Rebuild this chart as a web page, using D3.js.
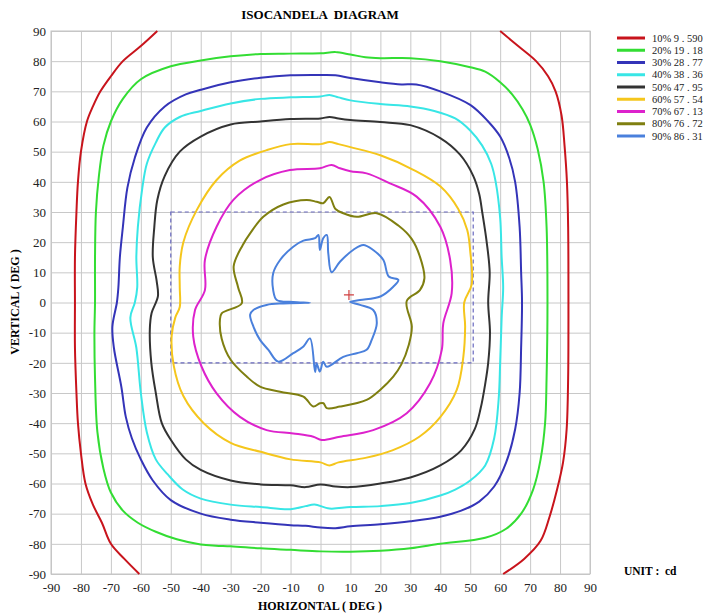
<!DOCTYPE html>
<html>
<head>
<meta charset="utf-8">
<script src="https://cdn.jsdelivr.net/npm/d3@7"></script>
<style>
  body { margin: 0; background: #fff; }
  svg text { font-family: "Liberation Serif", "DejaVu Serif", serif; white-space: pre; }
</style>
</head>
<body>
<svg id="chart" width="713" height="613"></svg>
<script>
// tick values (degrees)
const ticks = d3.range(-90, 91, 10);

// legend entries
const levels = ["10% 9 . 590", "20% 19 . 18", "30% 28 . 77", "40% 38 . 36", "50% 47 . 95",
                "60% 57 . 54", "70% 67 . 13", "80% 76 . 72", "90% 86 . 31"];
const colors = ["#c8141c", "#33dd33", "#3434b8", "#38e6e6", "#333333",
                "#f5c61c", "#dd22cc", "#7f7f10", "#4a80dc"];

// isocandela contours as [horizontal, vertical] degrees
const c10Left = [[-54.5, 90], [-60, 85], [-66, 80], [-70, 75], [-73.5, 70], [-76, 65], [-78, 60],
  [-80, 50], [-81, 40], [-81.5, 30], [-82, 15], [-82, 0], [-82, -15], [-81.5, -30], [-81, -40],
  [-80, -50], [-78.5, -60], [-76, -67], [-73, -73], [-70, -80], [-65.5, -85], [-60.5, -90]];
const c10Right = [[60, 90], [66, 85], [72, 80], [76, 75], [78.5, 70], [80.5, 62], [81.5, 52],
  [82.3, 40], [82.7, 25], [82.8, 0], [82.7, -25], [82.2, -42], [81, -53], [79, -62], [76.5, -71],
  [73.5, -79], [68, -85], [61, -90]];
const c20 = [[0, 82.6], [5, 83], [10, 82.2], [15, 81.3], [20, 81], [30, 81], [40, 80], [50, 78],
  [55, 76.5], [60, 73], [64, 69], [67.5, 64], [70, 59], [72.5, 51], [74.5, 40], [75.5, 25],
  [75.8, 0], [75.5, -25], [75, -40], [73.5, -52], [71, -62], [67, -70], [62, -75], [55, -78],
  [40, -80], [30, -81.5], [20, -82.3], [10, -82.6], [0, -82.5], [-10, -82], [-20, -81.5],
  [-30, -80.8], [-35, -80.6], [-40, -80.2], [-48, -78.5], [-55, -76], [-61, -73], [-66, -69],
  [-70, -63], [-72.5, -55], [-74.5, -43], [-75.3, -25], [-75.5, -10], [-75.3, 0], [-75.3, 15],
  [-75, 30], [-74, 42], [-72.5, 52], [-70, 60], [-66, 67.5], [-60, 74], [-50, 78.3],
  [-40, 80.2], [-30, 81.6], [-20, 82.4], [-10, 82.5]];
const c30 = [[-10, 75.3], [0, 75.4], [5, 75.3], [10, 74.4], [20, 73], [27, 72.3], [32, 72.3],
  [40, 70], [50, 65.5], [56, 60], [60, 55], [63, 48], [65, 40], [66.5, 25], [67, 10], [67.3, 0],
  [67, -15], [66.5, -30], [65, -42], [62, -53], [58, -61], [53, -66], [47, -69], [40, -71],
  [30, -72.5], [20, -73.5], [10, -74.2], [5, -74.8], [0, -74.6], [-5, -74], [-10, -73.8],
  [-20, -73], [-30, -72], [-40, -70], [-50, -65.5], [-56, -59], [-60, -52], [-63, -45],
  [-65, -38], [-66.5, -28], [-69, -15], [-69.5, -8], [-68, 0], [-67.5, 5], [-67, 15], [-66, 25],
  [-64.5, 38], [-62, 48], [-58, 58], [-52, 65], [-45, 69], [-40, 70.5], [-30, 73], [-20, 74.5]];
const c40 = [[-10, 68], [0, 68.3], [3, 68.8], [6, 68], [10, 67], [20, 65.8], [30, 65], [38, 63.5],
  [45, 61], [50, 57], [54, 52], [57, 46], [58.5, 40], [60, 28], [60.5, 15], [61, 5], [60.5, -5],
  [60, -20], [59.5, -32], [58, -45], [55, -54], [50, -59], [45, -62], [40, -64], [30, -66.5],
  [20, -67.5], [10, -67.8], [3, -68.3], [-2, -67], [-5, -67.5], [-10, -68.5], [-20, -67.8],
  [-30, -67], [-40, -65], [-46, -62], [-51, -57], [-55, -52], [-58, -43], [-60, -30],
  [-61.5, -15], [-63.5, -5], [-62, 0], [-61.2, 5], [-61.5, 15], [-61, 25], [-59.5, 38],
  [-58, 46], [-55, 53], [-52, 58], [-47, 61.5], [-40, 63.5], [-30, 66], [-20, 67.5]];
const c50 = [[-10, 60.8], [0, 61], [3, 61.5], [6, 61], [10, 60.5], [20, 59.8], [30, 58.8],
  [40, 54.5], [46.6, 49], [51, 42], [53, 36], [54, 30], [55.5, 20], [56.5, 10], [56, 0],
  [56.6, -10], [56, -20], [55, -27], [53.5, -35], [51.5, -42], [47, -49], [40, -54], [30, -58],
  [20, -60], [10, -61.2], [5, -61], [0, -60.3], [-5, -61.2], [-10, -60.6], [-20, -60.3],
  [-30, -59], [-40, -55.5], [-45, -52], [-50, -45.5], [-53, -40], [-55, -30], [-56.5, -20],
  [-57, -9], [-56.4, -3.5], [-54.3, 2], [-54.7, 7], [-56, 15], [-55.5, 25], [-54.5, 34],
  [-52, 42], [-47, 50], [-40, 55], [-30, 59], [-20, 60]];
const c60 = [[-10, 52.5], [0, 52.5], [3, 53.2], [6, 52.5], [10, 51.5], [20, 48.8], [31, 44],
  [40, 38.5], [46, 31], [49, 24], [50, 17], [50.5, 6], [48, 0], [48.3, -8], [47.7, -18],
  [45.5, -29], [40, -38], [33, -44.5], [24, -49], [15, -51.5], [6, -53], [3, -54], [0, -53],
  [-10, -52], [-20, -49.5], [-30, -46.5], [-39, -40], [-45.8, -31], [-49, -21], [-49.7, -11],
  [-48.5, -5], [-47, -1.5], [-47, 5], [-47, 12], [-45.8, 20], [-41.3, 30.7], [-34.7, 40.6],
  [-27, 47], [-18, 50.5]];
const c70 = [[-10.2, 43.9], [-0.2, 44.5], [3.7, 45.6], [6.5, 44.5], [10, 43.5], [15.4, 42.8],
  [23.2, 39.5], [32.1, 35.1], [40, 25.1], [43.3, 14.1], [43.8, 3], [41, -6.9], [40.5, -15.7],
  [36.6, -26.8], [28.8, -36.7], [17.6, -42.3], [6.5, -44.5], [0.4, -45.6], [-2.4, -44.5],
  [-9.1, -43.4], [-18, -42.3], [-26.9, -37.9], [-34.7, -30.1], [-39.7, -21.3], [-42.5, -11.3],
  [-41.9, -2.5], [-38.6, 4.1], [-38.6, 14.1], [-34.7, 25.1], [-29.1, 34], [-20.2, 40.6]];
const c80 = [[-4.6, 34], [-1.3, 33.4], [0.9, 32.9], [3, 35], [5, 31], [7.6, 29.6], [12.1, 28.4],
  [18.8, 29.6], [26, 25.5], [30.5, 21], [33.2, 15.2], [34.7, 8], [33.2, 4.1], [28.8, 0.5],
  [30.5, -8], [29.5, -14], [27, -20.5], [24.3, -24.6], [19.9, -29], [15.4, -32.3], [6.5, -34.5],
  [2.1, -35], [1, -33.4], [-0.2, -33.4], [-2.4, -34.5], [-5.7, -31.2], [-13.5, -29.6],
  [-20.2, -27.9], [-24.6, -24.6], [-30, -19], [-33, -12], [-33.6, -6], [-33, -3.6],
  [-26.3, -0.3], [-27.5, 5], [-29, 12], [-26, 19], [-23.5, 22.9], [-19.1, 28.4], [-12.4, 32.5]];
const c90 = [[-3.5, -0.1], [-9.1, 0.2], [-14.6, 0.8], [-15.8, 4.1], [-15.8, 9.7], [-13.5, 14.1],
  [-9.1, 18.5], [-5.7, 20.5], [-1.8, 21.3], [-0.7, 22.4], [-0.2, 17.4], [0.9, 21.3], [2.1, 22.4],
  [2.6, 16.3], [3.7, 10], [6.5, 13.5], [11, 17.5], [14.3, 19.1], [17.6, 17.4], [21, 14.1],
  [22.8, 8.6], [26, 7.5], [24.3, 5.2], [20, 2], [13.2, 0.8], [9.9, 0.2], [13.2, -0.8],
  [17.6, -2.5], [18.8, -6.9], [17.1, -12.4], [15.4, -15.7], [12.1, -16.8], [7.6, -18],
  [2.1, -21.3], [0.9, -19.6], [-0.2, -22.9], [-1.3, -20.2], [-1.8, -23], [-3.5, -11.9],
  [-5.7, -14.6], [-9.1, -16.8], [-14.1, -19.6], [-17.4, -15.7], [-20.2, -12.4], [-22.4, -8],
  [-23.5, -4], [-22.4, -2.5], [-18, -0.8], [-12.4, -0.3]];

// beam box and max point
const boxH = [-50, 51];
const boxV = [-20, 30];
const maxPoint = [9.5, 2.5];

const svg = d3.select("#chart");
const plotL = 51, plotR = 590, plotT = 31, plotB = 574;

const x = d3.scaleLinear().domain([-90, 90]).range([plotL, plotR]);
const y = d3.scaleLinear().domain([-90, 90]).range([plotB, plotT]);

// grid + axes (plain hyphen minus like the original)
const fmt = d => String(d);
const gx = svg.append("g")
  .attr("transform", `translate(0,${plotB})`)
  .call(d3.axisBottom(x).tickValues(ticks).tickFormat(fmt).tickSize(-(plotB - plotT)).tickPadding(9));
const gy = svg.append("g")
  .attr("transform", `translate(${plotL},0)`)
  .call(d3.axisLeft(y).tickValues(ticks).tickFormat(fmt).tickSize(-(plotR - plotL)).tickPadding(5));

[gx, gy].forEach(g => {
  g.select(".domain").remove();
  g.selectAll(".tick line").attr("stroke", "#c8c8c8").attr("stroke-width", 1);
  g.selectAll(".tick text")
    .style("font-family", "Liberation Serif, serif")
    .style("font-size", "13px")
    .attr("fill", "#222");
});

svg.append("rect")
  .attr("x", plotL).attr("y", plotT)
  .attr("width", plotR - plotL).attr("height", plotB - plotT)
  .attr("fill", "none").attr("stroke", "#c4c4c4");

// dashed beam box
svg.append("rect")
  .attr("x", x(boxH[0])).attr("y", y(boxV[1]))
  .attr("width", x(boxH[1]) - x(boxH[0]))
  .attr("height", y(boxV[0]) - y(boxV[1]))
  .attr("fill", "none")
  .attr("stroke", "#6a6ac0")
  .attr("stroke-width", 1.2)
  .attr("stroke-dasharray", "4,3");

const openLine = d3.line().x(d => x(d[0])).y(d => y(d[1])).curve(d3.curveCatmullRom.alpha(0.5));
const closedLine = d3.line().x(d => x(d[0])).y(d => y(d[1])).curve(d3.curveCatmullRomClosed.alpha(0.5));

const contours = [
  {pts: c10Left, closed: false, c: 0},
  {pts: c10Right, closed: false, c: 0},
  {pts: c20, closed: true, c: 1},
  {pts: c30, closed: true, c: 2},
  {pts: c40, closed: true, c: 3},
  {pts: c50, closed: true, c: 4},
  {pts: c60, closed: true, c: 5},
  {pts: c70, closed: true, c: 6},
  {pts: c80, closed: true, c: 7},
  {pts: c90, closed: true, c: 8}
];

svg.append("g").selectAll("path")
  .data(contours)
  .enter()
  .append("path")
    .attr("d", d => d.closed ? closedLine(d.pts) : openLine(d.pts))
    .attr("fill", "none")
    .attr("stroke", d => colors[d.c])
    .attr("stroke-width", 2)
    .attr("stroke-linejoin", "round");

// max intensity marker
const mx = x(maxPoint[0]), my = y(maxPoint[1]);
svg.append("path")
  .attr("d", `M${mx - 5},${my}H${mx + 5}M${mx},${my - 5}V${my + 5}`)
  .attr("stroke", "#d04040")
  .attr("stroke-width", 1.2);

// titles
svg.append("text")
  .attr("x", 320).attr("y", 19)
  .attr("text-anchor", "middle")
  .style("font-size", "13px").style("font-weight", "bold")
  .text("ISOCANDELA  DIAGRAM");

svg.append("text")
  .attr("x", 320).attr("y", 610)
  .attr("text-anchor", "middle")
  .style("font-size", "12px").style("font-weight", "bold")
  .text("HORIZONTAL ( DEG )");

svg.append("text")
  .attr("transform", "translate(19,302) rotate(-90)")
  .attr("text-anchor", "middle")
  .style("font-size", "12px").style("font-weight", "bold")
  .text("VERTICAL ( DEG )");

svg.append("text")
  .attr("x", 624).attr("y", 575)
  .style("font-size", "11.5px").style("font-weight", "bold")
  .text("UNIT :  cd");

// legend
const legend = svg.append("g").attr("transform", "translate(617,38)");
const rows = legend.selectAll("g")
  .data(levels)
  .enter()
  .append("g")
    .attr("transform", (d, i) => `translate(0,${i * 12.25})`);
rows.append("line")
  .attr("x1", 0).attr("x2", 28)
  .attr("stroke", (d, i) => colors[i])
  .attr("stroke-width", 3);
rows.append("text")
  .attr("x", 35).attr("y", 3.5)
  .style("font-size", "10.5px")
  .attr("fill", "#222")
  .text(d => d);
</script>
</body>
</html>
